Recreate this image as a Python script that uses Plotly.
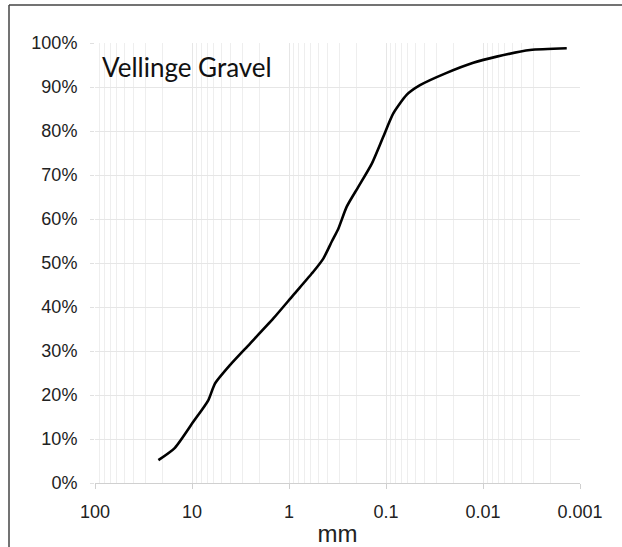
import plotly.graph_objects as go

# Grain size (mm) and cumulative percent passing
size_mm = [22.2, 15.0, 9.7, 6.8, 5.8, 4.06, 2.52, 1.45, 0.904, 0.562, 0.443,
           0.36, 0.31, 0.254, 0.193, 0.140, 0.1067, 0.0841, 0.0613, 0.0446,
           0.0237, 0.0126, 0.00723, 0.00327, 0.00137]
passing = [0.052, 0.080, 0.139, 0.188, 0.226, 0.268, 0.317, 0.374, 0.427, 0.480,
           0.510, 0.550, 0.578, 0.628, 0.673, 0.726, 0.787, 0.840, 0.882, 0.904,
           0.932, 0.955, 0.969, 0.984, 0.988]
x_ticks = [100, 10, 1, 0.1, 0.01, 0.001]
x_tick_labels = ["100", "10", "1", "0.1", "0.01", "0.001"]
title_text = "Vellinge Gravel"
x_title = "mm"

W, H = 622, 547
L, R, T, B = 95, 580, 43, 482.7

fig = go.Figure()
fig.add_trace(go.Scatter(
    x=size_mm, y=passing, mode="lines",
    line=dict(color="black", width=2.6, shape="spline", smoothing=0.6),
    showlegend=False, hoverinfo="skip"))

grid_c = "#e6e6e6"
fig.update_xaxes(
    type="log", range=[2, -3], automargin=False,
    tickvals=x_ticks, ticktext=x_tick_labels,
    tickfont=dict(family="Arial", size=18, color="#222"),
    showgrid=True, gridcolor=grid_c, gridwidth=1,
    minor=dict(dtick="D1", showgrid=True, gridcolor="#eeeeee", gridwidth=1, ticks=""),
    showline=True, linecolor="#d0d0d0", linewidth=1,
    ticks="outside", ticklen=5, tickcolor="#d0d0d0",
    ticklabelstandoff=7,
    title=dict(text=x_title, font=dict(family="Arial", size=24, color="#222"),
               standoff=10),
    zeroline=False)
fig.update_yaxes(
    range=[0, 1.0], dtick=0.1, tickformat=".0%", automargin=False,
    tickfont=dict(family="Arial", size=18, color="#222"),
    showgrid=True, gridcolor=grid_c, gridwidth=1,
    showline=False, ticks="outside", ticklen=4, tickcolor="#e0e0e0",
    ticklabelstandoff=9, zeroline=False)

def px_x(p):
    return (p - L) / (R - L)

def px_y(p):
    return (B - p) / (B - T)

fig.update_layout(
    width=W, height=H,
    margin=dict(l=L, r=W - R, t=T, b=H - B),
    paper_bgcolor="white", plot_bgcolor="white",
    annotations=[dict(
        text=title_text, xref="paper", yref="paper",
        x=px_x(100), y=px_y(67), xanchor="left", yanchor="middle",
        showarrow=False,
        font=dict(family="Lato, Noto Sans", size=26, color="#111"))],
    shapes=[
        dict(type="line", xref="paper", yref="paper",
             x0=px_x(9), x1=px_x(624), y0=px_y(5), y1=px_y(5),
             line=dict(color="#444", width=1.5)),
        dict(type="line", xref="paper", yref="paper",
             x0=px_x(9), x1=px_x(9), y0=px_y(5), y1=px_y(549),
             line=dict(color="#444", width=1.5)),
    ])

fig.write_html("out.html")
